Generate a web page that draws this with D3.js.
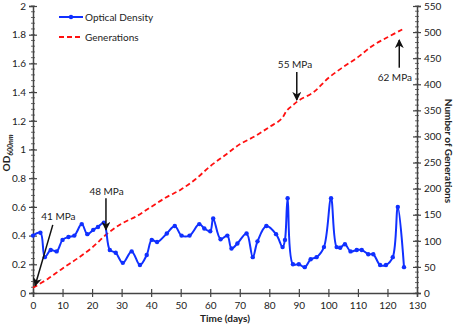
<!DOCTYPE html>
<html>
<head>
<meta charset="utf-8">
<script src="https://cdnjs.cloudflare.com/ajax/libs/d3/7.8.5/d3.min.js"></script>
<style>
  body { margin: 0; background: #fff; }
  text { font-family: Lato, "Open Sans", sans-serif; fill: #222; }
</style>
</head>
<body>
<div id="chart"></div>
<script>
// optical density (OD600nm)
var odDays = [0, 2.5, 4, 6, 8, 10, 12, 14, 16.5, 18.4, 20.4, 22, 24, 26, 28, 30.4, 33.4, 36.2, 38.5, 40.2,
  42, 45.3, 48, 50.3, 53, 56.3, 58, 60, 61, 63.5, 65.8, 67.2, 69.2, 72.3, 74.4, 76, 79, 82.3, 84.5, 85.3,
  86.2, 88, 90, 92, 94, 96, 98.5, 100.9, 102.8, 104, 105.6, 107.5, 109.6, 111.3, 113.5, 115.2, 117.5, 119.5, 121.8, 123.5,
  125.6];
var odValues = [0.40, 0.42, 0.25, 0.30, 0.29, 0.37, 0.39, 0.40, 0.48, 0.41, 0.44, 0.46, 0.49, 0.30, 0.28, 0.21, 0.29, 0.195, 0.265, 0.37,
  0.355, 0.415, 0.467, 0.40, 0.40, 0.48, 0.45, 0.43, 0.52, 0.375, 0.40, 0.31, 0.345, 0.415, 0.25, 0.36, 0.467, 0.41, 0.32, 0.37,
  0.66, 0.20, 0.20, 0.18, 0.235, 0.25, 0.32, 0.66, 0.32, 0.315, 0.34, 0.29, 0.30, 0.30, 0.27, 0.27, 0.195, 0.195, 0.25, 0.60,
  0.18];

// number of generations
var genDays = [0, 5, 10, 15, 20, 25, 30, 35, 40, 45, 50, 55, 60, 65, 70, 75, 80, 84, 86, 88, 90, 95, 100, 105, 110, 115, 120, 125];
var genValues = [10, 27, 47, 66, 87, 113, 133, 147, 165, 183, 198, 218, 243, 264, 285, 300, 318, 333, 350, 360, 369, 385, 412, 433, 452, 474, 490, 505];

// pressure annotations (day / OD coordinates)
var annLabels = ["41 MPa", "48 MPa", "55 MPa", "62 MPa"];
var annText = [[8.6, 0.53], [24.9, 0.71], [88.7, 1.59], [122.5, 1.505]];
var annFrom = [[6.7, 0.475], [24.7, 0.66], [89.3, 1.54], [124, 1.57]];
var annTo = [[0.7, 0.05], [24.7, 0.44], [89.3, 1.345], [124, 1.763]];

var seriesNames = ["Optical Density", "Generations"];

var width = 454, height = 328;
var margin = { top: 6, right: 37, bottom: 35, left: 33 };

var svg = d3.select("#chart").append("svg")
    .attr("width", width)
    .attr("height", height);

var x = d3.scaleLinear().domain([0, 130]).range([margin.left, width - margin.right]);
var yL = d3.scaleLinear().domain([0, 2]).range([height - margin.bottom, margin.top]);
var yR = d3.scaleLinear().domain([0, 550]).range([height - margin.bottom, margin.top]);

var axisColor = "#444";

svg.append("defs").append("marker")
    .attr("id", "arrow")
    .attr("viewBox", "0 0 10 10")
    .attr("refX", 9).attr("refY", 5)
    .attr("markerWidth", 6).attr("markerHeight", 6)
    .attr("orient", "auto")
    .append("path")
    .attr("d", "M0,0 L10,5 L0,10 L3,5 Z")
    .attr("fill", "#111");

// minor ticks
function minor(g, scale, step, len) {
    var d = scale.domain();
    for (var v = d[0]; v <= d[1] + 1e-9; v += step) {
        var p = scale(v);
        g.append("line").attr("x1", -len).attr("x2", len).attr("y1", p).attr("y2", p);
    }
}

// left axis
var gL = svg.append("g").attr("transform", "translate(" + margin.left + ",0)");
gL.call(d3.axisLeft(yL).tickValues(d3.range(0, 2.01, 0.2)).tickFormat(d3.format("~g")).tickSize(4).tickPadding(3));
gL.selectAll(".tick line").attr("x2", 4).attr("x1", -4);
var mL = gL.append("g").attr("stroke", axisColor).attr("stroke-width", 0.8);
minor(mL, yL, 0.04, 2);

// right axis
var gR = svg.append("g").attr("transform", "translate(" + (width - margin.right) + ",0)");
gR.call(d3.axisRight(yR).tickValues(d3.range(0, 551, 50)).tickSize(4).tickPadding(3));
gR.selectAll(".tick line").attr("x1", -4).attr("x2", 4);
var mR = gR.append("g").attr("stroke", axisColor).attr("stroke-width", 0.8);
minor(mR, yR, 10, 2);

// bottom axis
var gB = svg.append("g").attr("transform", "translate(0," + (height - margin.bottom) + ")");
gB.call(d3.axisBottom(x).tickValues(d3.range(0, 131, 10)).tickSize(4).tickPadding(5));
gB.selectAll(".tick line").attr("y1", -4).attr("y2", 4);

svg.selectAll(".domain").attr("stroke", axisColor).attr("stroke-width", 1.5);
svg.selectAll(".tick line").attr("stroke", axisColor).attr("stroke-width", 1.2);
svg.selectAll(".tick text").style("font-size", "10px").attr("fill", "#222");

// axis titles
svg.append("text")
    .attr("x", x(65)).attr("y", 322)
    .attr("text-anchor", "middle")
    .style("font-size", "10px").style("font-weight", "bold")
    .text("Time (days)");

var odLab = svg.append("text")
    .attr("transform", "translate(10,153) rotate(-90)")
    .attr("text-anchor", "middle")
    .style("font-size", "10px").style("font-weight", "bold");
odLab.append("tspan").text("OD");
odLab.append("tspan").attr("dy", 3).style("font-size", "7px").style("font-style", "italic").text("600nm");

svg.append("text")
    .attr("transform", "translate(445,151) rotate(90)")
    .attr("text-anchor", "middle")
    .style("font-size", "10px").style("font-weight", "bold")
    .text("Number of Generations");

// generations (dashed red)
var genLine = d3.line()
    .x(function (d, i) { return x(genDays[i]); })
    .y(function (d) { return yR(d); })
    .curve(d3.curveCatmullRom);
svg.append("path")
    .attr("d", genLine(genValues))
    .attr("fill", "none")
    .attr("stroke", "#ff1010")
    .attr("stroke-width", 1.8)
    .attr("stroke-dasharray", "5,3");

// optical density (blue with markers)
var odLine = d3.line()
    .x(function (d, i) { return x(odDays[i]); })
    .y(function (d) { return yL(d); })
    .curve(d3.curveCatmullRom);
svg.append("path")
    .attr("d", odLine(odValues))
    .attr("fill", "none")
    .attr("stroke", "#1030ff")
    .attr("stroke-width", 2);
svg.selectAll("circle.od")
    .data(odValues)
    .enter()
    .append("circle")
    .attr("class", "od")
    .attr("cx", function (d, i) { return x(odDays[i]); })
    .attr("cy", function (d) { return yL(d); })
    .attr("r", 2.2)
    .attr("fill", "#1030ff");

// annotations
for (var i = 0; i < annLabels.length; i++) {
    svg.append("line")
        .attr("x1", x(annFrom[i][0])).attr("y1", yL(annFrom[i][1]))
        .attr("x2", x(annTo[i][0])).attr("y2", yL(annTo[i][1]))
        .attr("stroke", "#111")
        .attr("stroke-width", 1.5)
        .attr("marker-end", "url(#arrow)");
    svg.append("text")
        .attr("x", x(annText[i][0])).attr("y", yL(annText[i][1]) + 3.5)
        .attr("text-anchor", "middle")
        .style("font-size", "10px")
        .text(annLabels[i]);
}

// legend
var leg = svg.append("g").attr("transform", "translate(59,17)");
leg.append("line").attr("x1", 0).attr("x2", 24).attr("y1", 0).attr("y2", 0)
    .attr("stroke", "#1030ff").attr("stroke-width", 2);
leg.append("circle").attr("cx", 12).attr("cy", 0).attr("r", 2.2).attr("fill", "#1030ff");
leg.append("text").attr("x", 26).attr("y", 3.5).style("font-size", "10px").text(seriesNames[0]);
leg.append("line").attr("x1", 0).attr("x2", 24).attr("y1", 20).attr("y2", 20)
    .attr("stroke", "#ff1010").attr("stroke-width", 1.8).attr("stroke-dasharray", "5,3");
leg.append("text").attr("x", 26).attr("y", 23.5).style("font-size", "10px").text(seriesNames[1]);
</script>
</body>
</html>
